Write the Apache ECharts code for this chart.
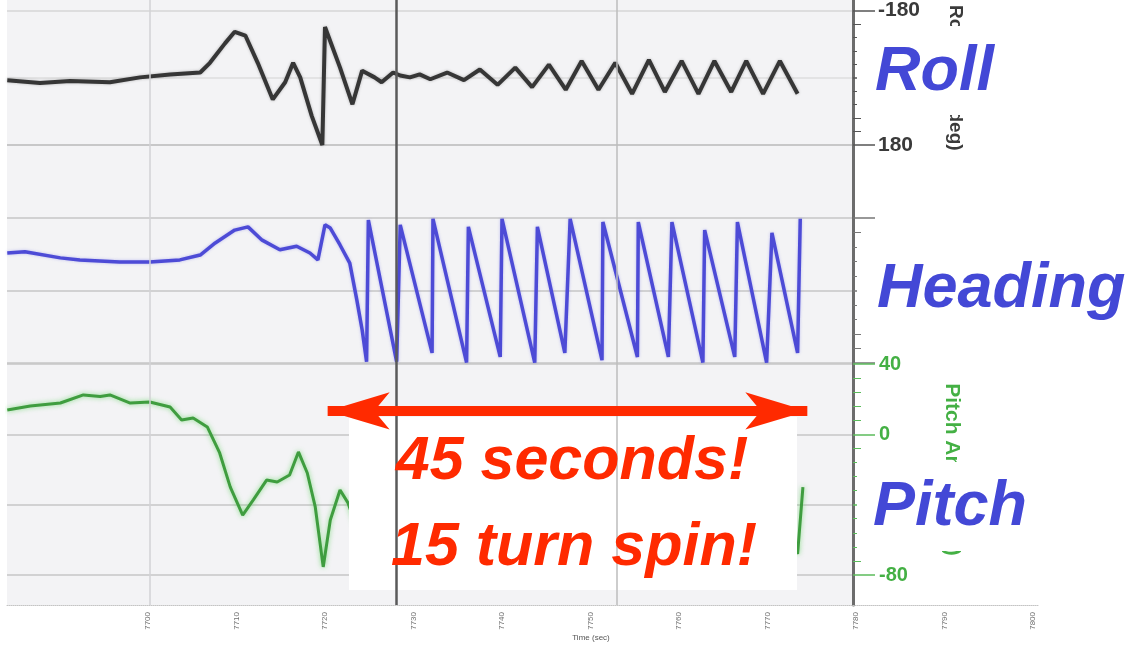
<!DOCTYPE html>
<html><head><meta charset="utf-8">
<script src="https://cdn.jsdelivr.net/npm/echarts@6/dist/echarts.min.js"></script>
<style>html,body{margin:0;padding:0;background:#fff}#c{width:1133px;height:648px}</style>
</head><body><div id="c"></div>
<script>
// ---- data (time in s, angles in deg) ----
const rollTime = [7684.1,7687.8,7691.2,7695.7,7699.1,7702.5,7705.9,7707.0,7708.7,7709.8,7711.0,7712.4,7714.1,7715.5,7716.4,7717.2,7718.5,7719.7,7720.0,7721.7,7723.1,7724.2,7725.6,7726.4,7727.7,7728.5,7729.6,7730.7,7731.9,7733.8,7735.7,7737.5,7739.5,7741.5,7743.4,7745.3,7747.2,7749.0,7750.9,7752.8,7754.7,7756.6,7758.4,7760.3,7762.2,7764.0,7765.9,7767.6,7769.5,7771.4,7773.4];
const rollDeg  = [6.5,14,9,12,-1,-9,-14,-40,-92,-123,-113,-40,58,12,-40,-1,102,180,-136,-27,71,-19,-1,12,-14,-6,-1,-9,4,-14,6.5,-22,19,-27,25,-35,32,-45,32,-40,43,-48,38,-45,43,-45,38,-45,43,-45,43];

const headingTime = [7684.1,7686.1,7690.1,7692.3,7696.8,7700.2,7703.6,7705.9,7707.6,7709.8,7711.3,7712.9,7714.9,7716.8,7718.3,7719.2,7720.0,7720.6,7721.7,7722.8,7723.6,7724.2,7724.7,7724.9,7728.1,7728.5,7732.1,7732.2,7736.0,7736.2,7739.8,7740.0,7743.7,7744.0,7747.1,7747.7,7751.3,7751.4,7755.3,7755.4,7758.8,7759.2,7762.7,7762.9,7766.3,7766.6,7769.9,7770.5,7773.4,7773.7];
const headingDeg  = [273,276,261,256,251,251,256,268,298,330,338,305,281,290,273,256,343,335,293,248,156,82,3,355,3,343,25,358,1,338,15,358,1,338,25,358,7,350,15,350,15,350,1,330,15,350,1,323,25,358];

const pitchTime = [7684.1,7686.7,7690.1,7692.7,7694.6,7695.7,7698.0,7700.2,7702.5,7703.8,7705.1,7706.7,7708.1,7709.3,7710.7,7711.9,7713.4,7714.6,7716.0,7717.0,7718.0,7718.9,7719.8,7720.6,7721.7,7722.6,7724.2,7726.2,7728.1,7730.2,7732.1,7734.1,7736.0,7738.1,7739.8,7741.8,7743.7,7745.6,7747.1,7749.4,7751.3,7753.3,7755.3,7757.1,7758.8,7760.8,7762.7,7764.6,7766.3,7768.2,7769.9,7771.9,7773.4,7774.0];
const pitchDeg  = [13.8,16.1,17.8,22.4,21.5,22.4,17.8,18.4,15.5,8.2,9.3,4.2,-10.6,-30,-45.9,-37.3,-26,-27.1,-23.1,-10,-22,-41.3,-75.4,-48.7,-31.7,-39,-62,-48,-66,-50,-68,-52,-69,-53,-70,-54,-70,-55,-71,-55,-71,-56,-72,-56,-72,-56,-72,-56,-72,-56,-72,-50,-68,-30];

const timeTickLabels = [7700,7710,7720,7730,7740,7750,7760,7770,7780,7790,7800];
const gridTimes = [7700.2, 7753.0];
const cursorTime = 7728.1;
const spinSpan = [7720.3, 7774.5];   // annotation arrow tips (seconds)
const spinArrowPitch = 13.3;

// ---- axis ranges ----
const XMIN = 7684.07, XMAX = 7779.66, XMAX_LBL = 7800.68;
const pair = (t, v) => t.map((x, i) => [x, v[i]]);
const FONT = 'Liberation Sans, Arial, sans-serif';

const chart = echarts.init(document.getElementById('c'));
const hiddenX = (g, max) => ({ gridIndex: g, type: 'value', min: XMIN, max: max || XMAX, show: true,
  axisLine: {show:false}, axisTick: {show:false}, axisLabel: {show:false}, splitLine: {show:false} });
const tickStyle = (c) => ({ axisTick: {show:true, length: 22, lineStyle:{color:c, width:1.5}},
  minorTick: {show:true, splitNumber:5, length:8, lineStyle:{color:c, width:1}} });

chart.setOption({
  animation: false,
  backgroundColor: '#ffffff',
  grid: [
    {left: 7, right: 280, top: 6, height: 139},          // roll
    {left: 7, right: 280, top: 218, height: 145},        // heading
    {left: 7, right: 280, top: 364, height: 211},        // pitch
    {left: 7, right: 94, top: 604, bottom: 43},          // time labels
    {left: 7, right: 280, top: 0, bottom: 43, show: true, backgroundColor: '#f3f3f5', borderWidth: 0, z: -1}
  ],
  xAxis: [hiddenX(0), hiddenX(1), hiddenX(2),
    { gridIndex: 3, type: 'value', min: XMIN, max: XMAX_LBL,
      axisLine: {show:true, lineStyle:{color:'#c4c4c4', type:'dotted', width:1}},
      axisTick: {show:false}, splitLine: {show:false},
      axisLabel: {customValues: timeTickLabels, formatter: v => String(v), rotate: 90, fontSize: 8, color: '#707070', margin: 7, fontFamily: FONT},
      name: 'Time (sec)', nameLocation: 'middle', nameGap: 27,
      nameTextStyle: {fontSize: 8, color: '#555', fontFamily: FONT, padding: [0, 0, 0, 136]} },
    hiddenX(4)],
  yAxis: [
    Object.assign({ gridIndex: 0, type: 'value', position: 'right', min: -180, max: 180, interval: 180, inverse: true,
      axisLine: {show:false},
      axisLabel: {fontSize: 21, fontWeight: 'bold', color: '#3a3a3a', margin: 25, fontFamily: FONT},
      splitLine: {show:true, lineStyle:{color:['#d6d6d6','#dedede','#b9b9b9'], width:1.5}},
      name: 'Roll Angle (deg)', nameLocation: 'middle', nameRotate: -90, nameGap: 93,
      nameTextStyle: {fontSize: 19, fontWeight: 'bold', color: '#3a3a3a', fontFamily: FONT} }, tickStyle('#555')),
    Object.assign({ gridIndex: 1, type: 'value', position: 'right', min: 0, max: 360, interval: 180,
      axisLine: {show:false}, axisLabel: {show:false},
      splitLine: {show:true, lineStyle:{color:'#c6c6c6', width:1.5}} }, tickStyle('#777')),
    Object.assign({ gridIndex: 2, type: 'value', position: 'right', min: -80, max: 40, interval: 40,
      axisLine: {show:false},
      axisLabel: {fontSize: 20, fontWeight: 'bold', color: '#44b044', margin: 26, fontFamily: FONT},
      splitLine: {show:true, lineStyle:{color:'#c6c6c6', width:1.5}},
      name: 'Pitch Angle (deg)', nameLocation: 'middle', nameRotate: -90, nameGap: 88,
      nameTextStyle: {fontSize: 21, fontWeight: 'bold', color: '#44b044', fontFamily: FONT} }, tickStyle('#5cbc5c')),
    { gridIndex: 3, show: false },
    { gridIndex: 4, type: 'value', position: 'right', min: 0, max: 1,
      axisLine: {show:true, lineStyle:{color:'#6c6c6c', width:3}},
      axisTick: {show:false}, axisLabel: {show:false}, splitLine: {show:false} }
  ],
  series: [
    { type: 'line', xAxisIndex: 4, yAxisIndex: 4, data: [], silent: true, z: 1,
      markLine: { silent: true, symbol: 'none', label: {show:false}, animation: false,
        data: [
          {xAxis: gridTimes[0], lineStyle: {color:'#d2d2d4', width:1.5, type:'solid'}},
          {xAxis: gridTimes[1], lineStyle: {color:'#bdbdbd', width:1.5, type:'solid'}},
          {xAxis: cursorTime, lineStyle: {color:'#5a5a5a', width:2.5, type:'solid'}}
        ] } },
    { name: 'Roll', type: 'line', xAxisIndex: 0, yAxisIndex: 0, data: pair(rollTime, rollDeg),
      showSymbol: false, z: 3, clip: false,
      lineStyle: {color: '#363636', width: 4, shadowColor: 'rgba(0,0,0,0.25)', shadowBlur: 3} },
    { name: 'Heading', type: 'line', xAxisIndex: 1, yAxisIndex: 1, data: pair(headingTime, headingDeg),
      showSymbol: false, z: 3,
      lineStyle: {color: '#4d4bd6', width: 3.5, shadowColor: 'rgba(80,80,230,0.35)', shadowBlur: 3} },
    { name: 'Pitch', type: 'line', xAxisIndex: 2, yAxisIndex: 2, data: pair(pitchTime, pitchDeg),
      showSymbol: false, z: 3,
      lineStyle: {color: '#3f9d3f', width: 3, shadowColor: 'rgba(90,210,90,0.7)', shadowBlur: 5} },
    { type: 'line', xAxisIndex: 2, yAxisIndex: 2, data: [], silent: true, z: 10,
      markLine: { silent: true, symbol: ['arrow','arrow'], symbolSize: [28, 62], label: {show:false}, animation: false,
        lineStyle: {color: '#ff2a00', width: 10, type: 'solid'},
        data: [[{coord: [spinSpan[0], spinArrowPitch]}, {coord: [spinSpan[1], spinArrowPitch]}]] } }
  ],
  graphic: [
    {type:'rect', z: 5, shape:{x:857, y:26, width:276, height:89}, style:{fill:'#ffffff'}},
    {type:'rect', z: 5, shape:{x:857, y:235, width:276, height:95}, style:{fill:'#ffffff'}},
    {type:'rect', z: 5, shape:{x:857, y:462, width:276, height:89}, style:{fill:'#ffffff'}},
    {type:'rect', z: 5, shape:{x:349, y:417, width:448, height:173}, style:{fill:'#ffffff'}},
    {type:'text', z: 6, style:{text:'Roll', x:875, y:73, font:'italic bold 63px ' + FONT, fill:'#4348d6', textAlign:'left', textVerticalAlign:'middle'}},
    {type:'text', z: 6, style:{text:'Heading', x:877, y:290, font:'italic bold 63px ' + FONT, fill:'#4348d6', textAlign:'left', textVerticalAlign:'middle'}},
    {type:'text', z: 6, style:{text:'Pitch', x:873, y:508, font:'italic bold 63px ' + FONT, fill:'#4348d6', textAlign:'left', textVerticalAlign:'middle'}},
    {type:'text', z: 6, style:{text:'45 seconds!', x:572, y:462, font:'italic bold 61px ' + FONT, fill:'#ff2a00', textAlign:'center', textVerticalAlign:'middle'}},
    {type:'text', z: 6, style:{text:'15 turn spin!', x:574, y:548, font:'italic bold 61px ' + FONT, fill:'#ff2a00', textAlign:'center', textVerticalAlign:'middle'}}
  ]
});
</script></body></html>
